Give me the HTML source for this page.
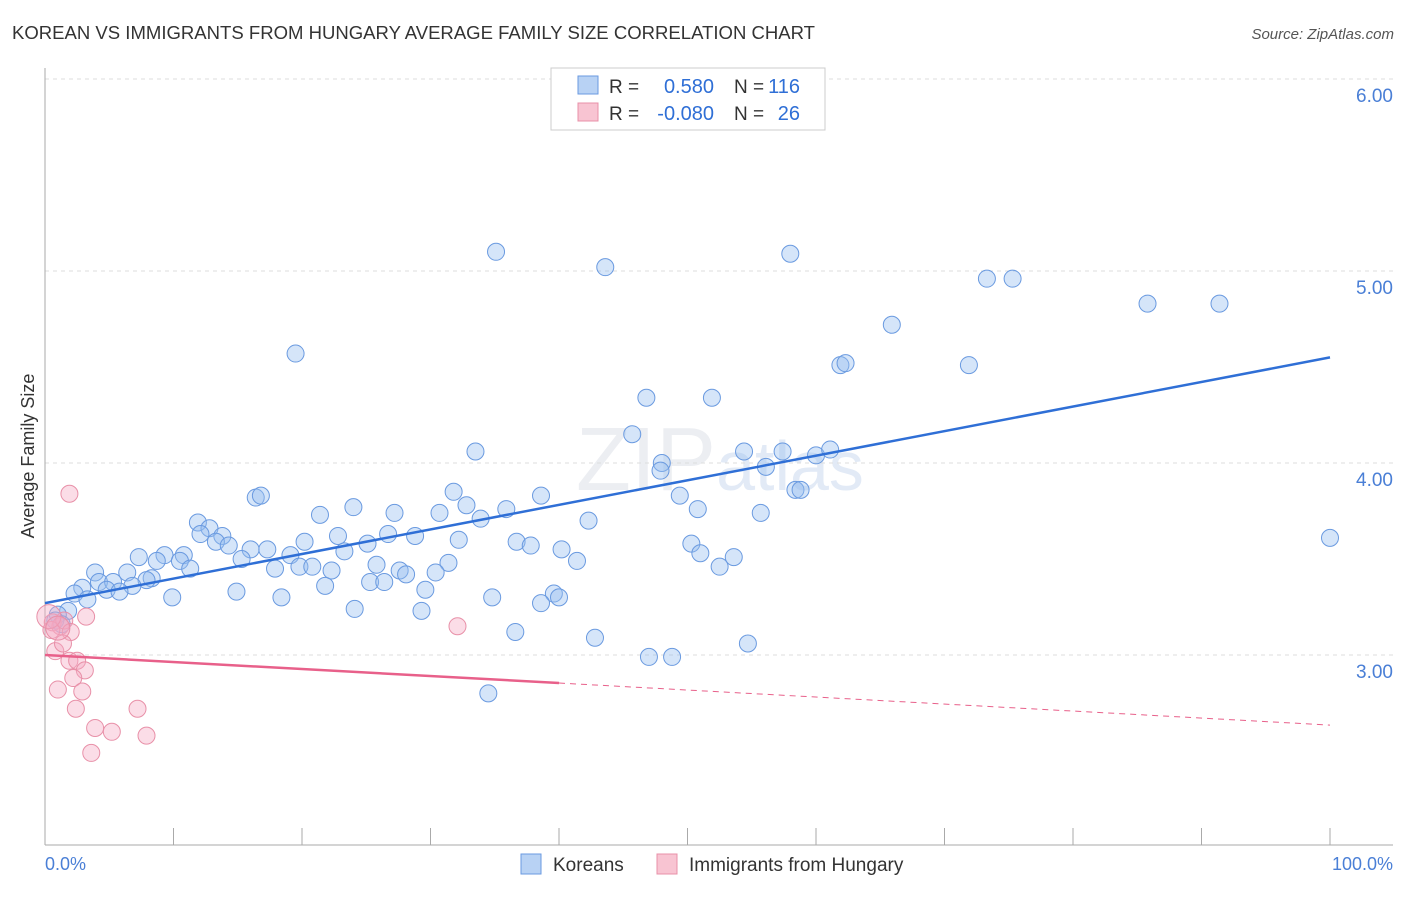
<!DOCTYPE html>
<html><head><meta charset="utf-8"><style>
body{margin:0;background:#fff;font-family:"Liberation Sans",sans-serif}
svg text{font-family:"Liberation Sans",sans-serif}
</style></head><body>
<svg id="chart" width="1406" height="892" xmlns="http://www.w3.org/2000/svg">
<text x="12" y="39" font-size="18" fill="#333" textLength="803" lengthAdjust="spacingAndGlyphs">KOREAN VS IMMIGRANTS FROM HUNGARY AVERAGE FAMILY SIZE CORRELATION CHART</text>
<text x="1394" y="39" font-size="15" fill="#555" text-anchor="end" font-style="italic">Source: ZipAtlas.com</text>
<text x="720" y="490" font-size="90" fill="#eceef2" text-anchor="middle" font-family="Liberation Serif">ZIP<tspan fill="#e2eaf6" font-family="Liberation Sans" font-size="70">atlas</tspan></text>
<g id="grid"></g>
<g id="axes"></g>
<g id="pts"></g>
<g id="trends"></g>
<text transform="translate(34,456) rotate(-90)" font-size="18" fill="#333" text-anchor="middle">Average Family Size</text>
<text x="45" y="870" font-size="18" fill="#4a7fd6">0.0%</text>
<text x="1393" y="870" font-size="18" fill="#4a7fd6" text-anchor="end">100.0%</text>
<g>
<rect x="551" y="68" width="274" height="62" fill="#fff" stroke="#ccc"/>
<rect x="578" y="76" width="20" height="18" fill="#b8d2f4" stroke="#6a9ae0"/>
<rect x="578" y="103" width="20" height="18" fill="#f8c4d2" stroke="#e890a8"/>
<text x="609" y="93" font-size="19" fill="#333">R =</text>
<text x="714" y="93" font-size="20" fill="#2f6fd6" text-anchor="end">0.580</text>
<text x="734" y="93" font-size="19" fill="#333">N =</text>
<text x="800" y="93" font-size="20" fill="#2f6fd6" text-anchor="end">116</text>
<text x="609" y="120" font-size="19" fill="#333">R =</text>
<text x="714" y="120" font-size="20" fill="#2f6fd6" text-anchor="end">-0.080</text>
<text x="734" y="120" font-size="19" fill="#333">N =</text>
<text x="800" y="120" font-size="20" fill="#2f6fd6" text-anchor="end">26</text>
</g>
<g>
<rect x="521" y="854" width="20" height="20" fill="#b8d2f4" stroke="#6a9ae0"/>
<text x="553" y="871" font-size="19" fill="#333">Koreans</text>
<rect x="657" y="854" width="20" height="20" fill="#f8c4d2" stroke="#e890a8"/>
<text x="689" y="871" font-size="19" fill="#333">Immigrants from Hungary</text>
</g>
</svg>
<script>
const yTicks=[3,4,5,6];
const yTickLabels=["3.00","4.00","5.00","6.00"];
const koreanX=[35.1,43.6,58.0,73.3,75.3,85.8,91.4,65.9,61.9,62.3,71.9,19.5,46.8,51.9,45.7,33.5,54.4,57.4,60.0,61.1,48.0,47.9,56.1,58.4,58.8,49.4,38.6,31.8,16.4,16.8,24.0,32.8,35.9,21.4,27.2,30.7,33.9,50.8,55.7,42.3,11.9,12.8,12.1,13.8,13.3,14.3,22.8,26.7,28.8,20.2,25.1,32.2,36.7,37.8,50.3,100,16.0,17.3,23.3,40.2,51.0,53.6,7.3,9.3,10.8,19.1,8.7,10.5,15.3,41.4,31.4,25.8,19.8,20.8,11.3,17.9,52.5,22.3,27.6,28.1,30.4,3.9,6.4,8.3,7.9,25.3,26.4,4.2,5.3,21.8,6.8,2.9,4.8,5.8,14.9,29.6,2.3,39.6,9.9,18.4,34.8,40.0,3.3,38.6,24.1,29.3,1.8,1.0,0.8,1.3,36.6,42.8,54.7,47.0,48.8,34.5];
const koreanY=[5.10,5.02,5.09,4.96,4.96,4.83,4.83,4.72,4.51,4.52,4.51,4.57,4.34,4.34,4.15,4.06,4.06,4.06,4.04,4.07,4.00,3.96,3.98,3.86,3.86,3.83,3.83,3.85,3.82,3.83,3.77,3.78,3.76,3.73,3.74,3.74,3.71,3.76,3.74,3.70,3.69,3.66,3.63,3.62,3.59,3.57,3.62,3.63,3.62,3.59,3.58,3.60,3.59,3.57,3.58,3.61,3.55,3.55,3.54,3.55,3.53,3.51,3.51,3.52,3.52,3.52,3.49,3.49,3.50,3.49,3.48,3.47,3.46,3.46,3.45,3.45,3.46,3.44,3.44,3.42,3.43,3.43,3.43,3.40,3.39,3.38,3.38,3.38,3.38,3.36,3.36,3.35,3.34,3.33,3.33,3.34,3.32,3.32,3.30,3.30,3.30,3.30,3.29,3.27,3.24,3.23,3.23,3.21,3.18,3.16,3.12,3.09,3.06,2.99,2.99,2.80];
const hungX=[1.9,3.2,0.6,1.2,0.5,1.5,2.0,0.8,1.4,1.9,2.5,3.1,2.2,1.0,2.9,2.4,7.2,3.9,5.2,7.9,3.6,32.1,0.3,1.0];
const hungY=[3.84,3.20,3.17,3.15,3.13,3.18,3.12,3.02,3.06,2.97,2.97,2.92,2.88,2.82,2.81,2.72,2.72,2.62,2.60,2.58,2.49,3.15,3.20,3.14];
const koreanTrend=[3.27,4.55];
const hungTrend=[3.00,2.635];
const hungSolidEnd=40;
const NS="http://www.w3.org/2000/svg";
const X0=45,X1=1330;
const xs=p=>X0+(X1-X0)*p/100;
const ys=v=>655-(v-3)*192;
function mk(tag,attrs,parent){const e=document.createElementNS(NS,tag);for(const k in attrs)e.setAttribute(k,attrs[k]);parent.appendChild(e);return e;}
const grid=document.getElementById('grid');
yTicks.forEach((t,i)=>{
 const l=mk('line',{x1:X0,x2:1393,y1:ys(t),y2:ys(t),stroke:'#ddd','stroke-dasharray':'4,4'},grid);
 
 
 const tx=mk('text',{x:1393,y:ys(t)+23,'font-size':19,fill:'#4a7fd6','text-anchor':'end'},grid);
 tx.textContent=yTickLabels[i];
 
 
});
const axes=document.getElementById('axes');
mk('line',{x1:X0,x2:X0,y1:68,y2:845,stroke:'#aaa'},axes);
mk('line',{x1:X0,x2:1393,y1:845,y2:845,stroke:'#aaa'},axes);
for(let k=0;k<=10;k++){const t=mk('line',{x1:xs(k*10),x2:xs(k*10),y1:828,y2:845,stroke:'#aaa'},axes);
 
 }
const pts=document.getElementById('pts');
koreanX.forEach((x,i)=>{const c=mk('circle',{cx:xs(x),cy:ys(koreanY[i]),r:8.5,fill:'rgba(150,190,240,0.4)',stroke:'#6a9ae0','stroke-width':1},pts);
 
 });
hungX.forEach((x,i)=>{const c=mk('circle',{cx:xs(x),cy:ys(hungY[i]),r:i>=22?12:8.5,fill:'rgba(245,170,195,0.4)',stroke:'#e890a8','stroke-width':1},pts);
 
 });
const tr=document.getElementById('trends');
const kl=mk('line',{x1:xs(0),y1:ys(koreanTrend[0]),x2:xs(100),y2:ys(koreanTrend[1]),stroke:'#2f6fd6','stroke-width':2.5},tr);


const hv=p=>hungTrend[0]+(hungTrend[1]-hungTrend[0])*p/100;
const hl=mk('line',{x1:xs(0),y1:ys(hv(0)),x2:xs(hungSolidEnd),y2:ys(hv(hungSolidEnd)),stroke:'#e8608a','stroke-width':2.5},tr);


const hd=mk('line',{x1:xs(hungSolidEnd),y1:ys(hv(hungSolidEnd)),x2:xs(100),y2:ys(hv(100)),stroke:'#e8608a','stroke-width':1,'stroke-dasharray':'6,5'},tr);


</script>
</body></html>
